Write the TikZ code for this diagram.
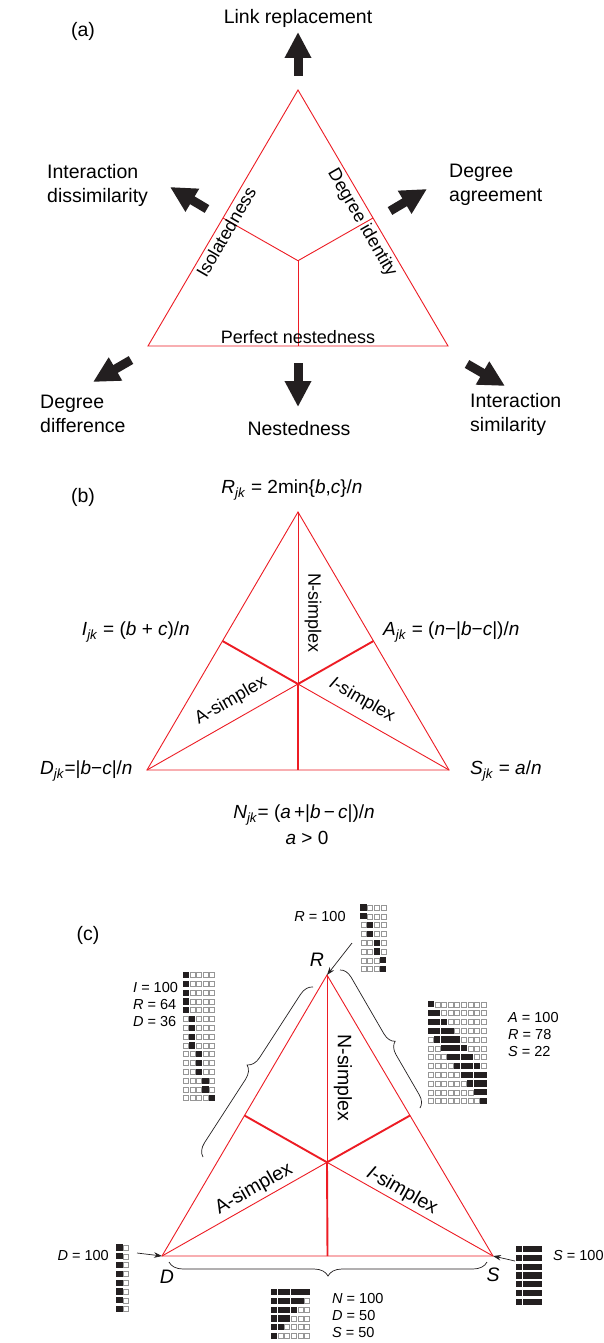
\documentclass[tikz,border=0pt]{standalone}
\usepackage{fontspec}
\setmainfont{Liberation Sans}
\usetikzlibrary{arrows.meta,decorations.pathreplacing}
\definecolor{trired}{RGB}{237,28,36}
\definecolor{ink}{RGB}{35,31,32}
\definecolor{celledge}{RGB}{150,150,150}
\newcommand{\cellmatrix}[3]{%
  \foreach \rowlist [count=\r from 0] in {#3} {%
    \foreach \v [count=\c from 0] in \rowlist {%
      \pgfmathsetmacro{\cx}{#1+6.6*\c}%
      \pgfmathsetmacro{\cy}{#2+8.8*\r}%
      \ifnum\v=1
        \fill[ink] (\cx-3.1,\cy-3.1) rectangle (\cx+3.1,\cy+3.1);
      \else
        \draw[celledge,line width=0.5pt] (\cx-2.5,\cy-2.5) rectangle (\cx+2.5,\cy+2.5);
      \fi
    }%
  }%
}
\begin{document}
\begin{tikzpicture}[x=1pt,y=-1pt,
  every node/.style={inner sep=0pt, text=black},
  big/.style={font=\fontsize{19.5}{24}\selectfont, align=left},
  mid/.style={font=\fontsize{18}{21}\selectfont},
  eqn/.style={font=\fontsize{19}{22}\selectfont},
  small/.style={font=\fontsize{14.5}{17}\selectfont, align=left},
  tri/.style={draw=trired, line width=0.9pt},
  trithick/.style={draw=trired, line width=1.9pt},
  bigarrow/.style={draw=ink, line width=9pt, -{Triangle[width=25pt,length=26pt]}},
  thinarrow/.style={draw=ink, line width=0.7pt, -{Stealth[length=8pt,width=5.5pt]}},
  bracestyle/.style={draw=ink, line width=0.7pt, decorate}
]
\useasboundingbox (0,0) rectangle (603,1343);
\fill[white] (0,0) rectangle (603,1343);

% ================= (a) =================
\node[big] (pa) at (83,31) {(a)};
\coordinate (A1) at (298,90);
\coordinate (B1) at (148,346);
\coordinate (C1) at (448,346);
\coordinate (G1) at (298,260.7);
\coordinate (M1l) at (223,218);
\coordinate (M1r) at (373,218);
\coordinate (M1b) at (298,346);
\draw[tri] (A1) -- (B1) -- (C1) -- cycle;
\draw[tri] (G1) -- (M1l);
\draw[tri] (G1) -- (M1r);
\draw[tri] (G1) -- (M1b);
\node[mid, rotate=60] (iso) at (226,232) {Isolatedness};
\node[mid, rotate=-60] (did) at (362,223) {Degree identity};
\node[mid] (pn) at (298,337) {Perfect nestedness};

\node[big] (lr) at (298,18) {Link replacement};
\node[big, anchor=west] (idis) at (47,185) {Interaction\\dissimilarity};
\node[big, anchor=west] (dagr) at (449,185) {Degree\\agreement};
\node[big, anchor=west] (ddif) at (40,414) {Degree\\difference};
\node[big] (nest) at (299,429) {Nestedness};
\node[big, anchor=west] (isim) at (470,414) {Interaction\\similarity};

\coordinate (u0) at (298,76);  \coordinate (u1) at (298,32);
\coordinate (ul0) at (207,209); \coordinate (ul1) at (170,187);
\coordinate (ur0) at (390,211); \coordinate (ur1) at (427,189);
\coordinate (dl0) at (131,360); \coordinate (dl1) at (93,382);
\coordinate (d0) at (298,363);  \coordinate (d1) at (298,407);
\coordinate (dr0) at (467,364); \coordinate (dr1) at (505,386);
\draw[bigarrow] (u0) -- (u1);
\draw[bigarrow] (ul0) -- (ul1);
\draw[bigarrow] (ur0) -- (ur1);
\draw[bigarrow] (dl0) -- (dl1);
\draw[bigarrow] (d0) -- (d1);
\draw[bigarrow] (dr0) -- (dr1);

% ================= (b) =================
\node[big] (pb) at (83,497) {(b)};
\coordinate (A2) at (298,512);
\coordinate (B2) at (147,770);
\coordinate (C2) at (449,770);
\coordinate (G2) at (298,684);
\coordinate (M2l) at (222.5,641);
\coordinate (M2r) at (373.5,641);
\coordinate (M2b) at (298,770);
\draw[tri] (A2) -- (B2) -- (C2) -- cycle;
\draw[tri] (A2) -- (G2);
\draw[tri] (B2) -- (G2);
\draw[tri] (C2) -- (G2);
\draw[trithick] (G2) -- (M2l);
\draw[trithick] (G2) -- (M2r);
\draw[trithick] (G2) -- (M2b);
\node[mid, rotate=-90] (nsb) at (313,613) {N-simplex};
\node[mid, rotate=29.7] (asb) at (231,701) {A-simplex};
\node[mid, rotate=-29.7] (isb) at (362,700) {\textit{I}-simplex};

\node[eqn] (eR) at (292,490) {\textit{R}\textsubscript{\textit{jk}} = 2min\{\textit{b},\textit{c}\}/\textit{n}};
\node[eqn, anchor=east] (eI) at (190,632) {\textit{I}\textsubscript{\textit{jk}} = (\textit{b} + \textit{c})/\textit{n}};
\node[eqn, anchor=west] (eA) at (383,632) {\textit{A}\textsubscript{\textit{jk}} = (\textit{n}−|\textit{b}−\textit{c}|)/\textit{n}};
\node[eqn, anchor=west] (eD) at (40,771) {\textit{D}\textsubscript{\textit{jk}}=|\textit{b}−\textit{c}|/\textit{n}};
\node[eqn, anchor=west] (eS) at (470,771) {\textit{S}\textsubscript{\textit{jk}} = \textit{a}/\textit{n}};
\node[eqn] (eN) at (304,815) {\textit{N}\textsubscript{\textit{jk}}= (\textit{a}\,+|\textit{b}\,−\,\textit{c}|)/\textit{n}};
\node[eqn] (ea) at (307,838) {\textit{a} > 0};

% ================= (c) =================
\node[big] (pc) at (88,935) {(c)};
\coordinate (A3) at (327,975);
\coordinate (B3) at (162,1256);
\coordinate (C3) at (493,1256);
\coordinate (G3) at (327,1162.3);
\coordinate (M3l) at (244.5,1115.5);
\coordinate (M3r) at (410,1115.5);
\coordinate (M3b) at (327.5,1256);
\draw[tri] (A3) -- (B3) -- (C3) -- cycle;
\draw[tri] (A3) -- (G3);
\draw[tri] (B3) -- (G3);
\draw[tri] (C3) -- (G3);
\draw[trithick] (G3) -- (M3l);
\draw[trithick] (G3) -- (M3r);
\draw[trithick] (G3) -- (M3b);
\node[big, rotate=-90] (nsc) at (343,1078) {N-simplex};
\node[big, rotate=29.6] (asc) at (254,1189) {A-simplex};
\node[big, rotate=-29.6] (isc) at (402,1191) {\textit{I}-simplex};

\node[big] (lR) at (317,960) {\textit{R}};
\node[big] (lD) at (167,1277) {\textit{D}};
\node[big] (lS) at (493,1275) {\textit{S}};

% braces
\coordinate (bl0) at (203,1157); \coordinate (bl1) at (313,987);
\coordinate (br0) at (340,970);  \coordinate (br1) at (420,1108);
\coordinate (bb0) at (487,1262); \coordinate (bb1) at (169,1262);
\draw[bracestyle, decoration={brace, amplitude=13pt, aspect=0.5}] (bl0) -- (bl1);
\draw[bracestyle, decoration={brace, amplitude=12pt, aspect=0.56}] (br0) -- (br1);
\draw[bracestyle, decoration={brace, amplitude=14pt, aspect=0.5}] (bb0) -- (bb1);

% arrows to vertices
\coordinate (ra) at (352,943);
\coordinate (da) at (137,1253);
\coordinate (sa) at (515,1261);
\draw[thinarrow] (ra) -- (A3);
\draw[thinarrow] (da) -- (B3);
\draw[thinarrow] (sa) -- (C3);

% texts
\node[small] (tR) at (320,916) {\textit{R} = 100};
\node[small, anchor=west] (tI) at (133,1004) {\textit{I} = 100\\\textit{R} = 64\\\textit{D} = 36};
\node[small, anchor=west] (tA) at (508,1034) {\textit{A} = 100\\\textit{R} = 78\\\textit{S} = 22};
\node[small, anchor=west] (tN) at (332,1315) {\textit{N} = 100\\\textit{D} = 50\\\textit{S} = 50};
\node[small, anchor=east] (tD) at (109,1255) {\textit{D} = 100};
\node[small, anchor=west] (tS) at (553,1255) {\textit{S} = 100};

% matrices
\cellmatrix{363.5}{907.5}{{1,0,0,0},{1,0,0,0},{0,1,0,0},{0,1,0,0},{0,0,1,0},{0,0,1,0},{0,0,0,1},{0,0,0,1}}
\cellmatrix{185.7}{975}{{1,0,0,0,0},{1,0,0,0,0},{1,0,0,0,0},{1,0,0,0,0},{1,0,0,0,0},{0,1,0,0,0},{0,1,0,0,0},{0,1,0,0,0},{0,1,0,0,0},{0,0,1,0,0},{0,0,1,0,0},{0,0,1,0,0},{0,0,0,1,0},{0,0,0,1,0},{0,0,0,0,1}}
\cellmatrix{430.7}{1004.3}{{1,0,0,0,0,0,0,0,0},{1,1,0,0,0,0,0,0,0},{1,1,1,0,0,0,0,0,0},{1,1,1,1,0,0,0,0,0},{0,1,1,1,1,0,0,0,0},{0,0,1,1,1,1,0,0,0},{0,0,0,1,1,1,1,0,0},{0,0,0,0,1,1,1,1,0},{0,0,0,0,0,1,1,1,1},{0,0,0,0,0,0,1,1,1},{0,0,0,0,0,0,0,1,1},{0,0,0,0,0,0,0,0,1}}
\cellmatrix{119.5}{1247.5}{{1,0},{1,0},{1,0},{1,0},{1,0},{1,0},{1,0},{1,0}}
\cellmatrix{519.3}{1249}{{1,1,1,1},{1,1,1,1},{1,1,1,1},{1,1,1,1},{1,1,1,1},{1,1,1,1},{1,1,1,1}}
\cellmatrix{274}{1292}{{1,1,1,1,1,1},{1,1,1,1,1,0},{1,1,1,1,0,0},{1,1,1,0,0,0},{1,1,0,0,0,0},{1,0,0,0,0,0}}
\end{tikzpicture}
\end{document}
